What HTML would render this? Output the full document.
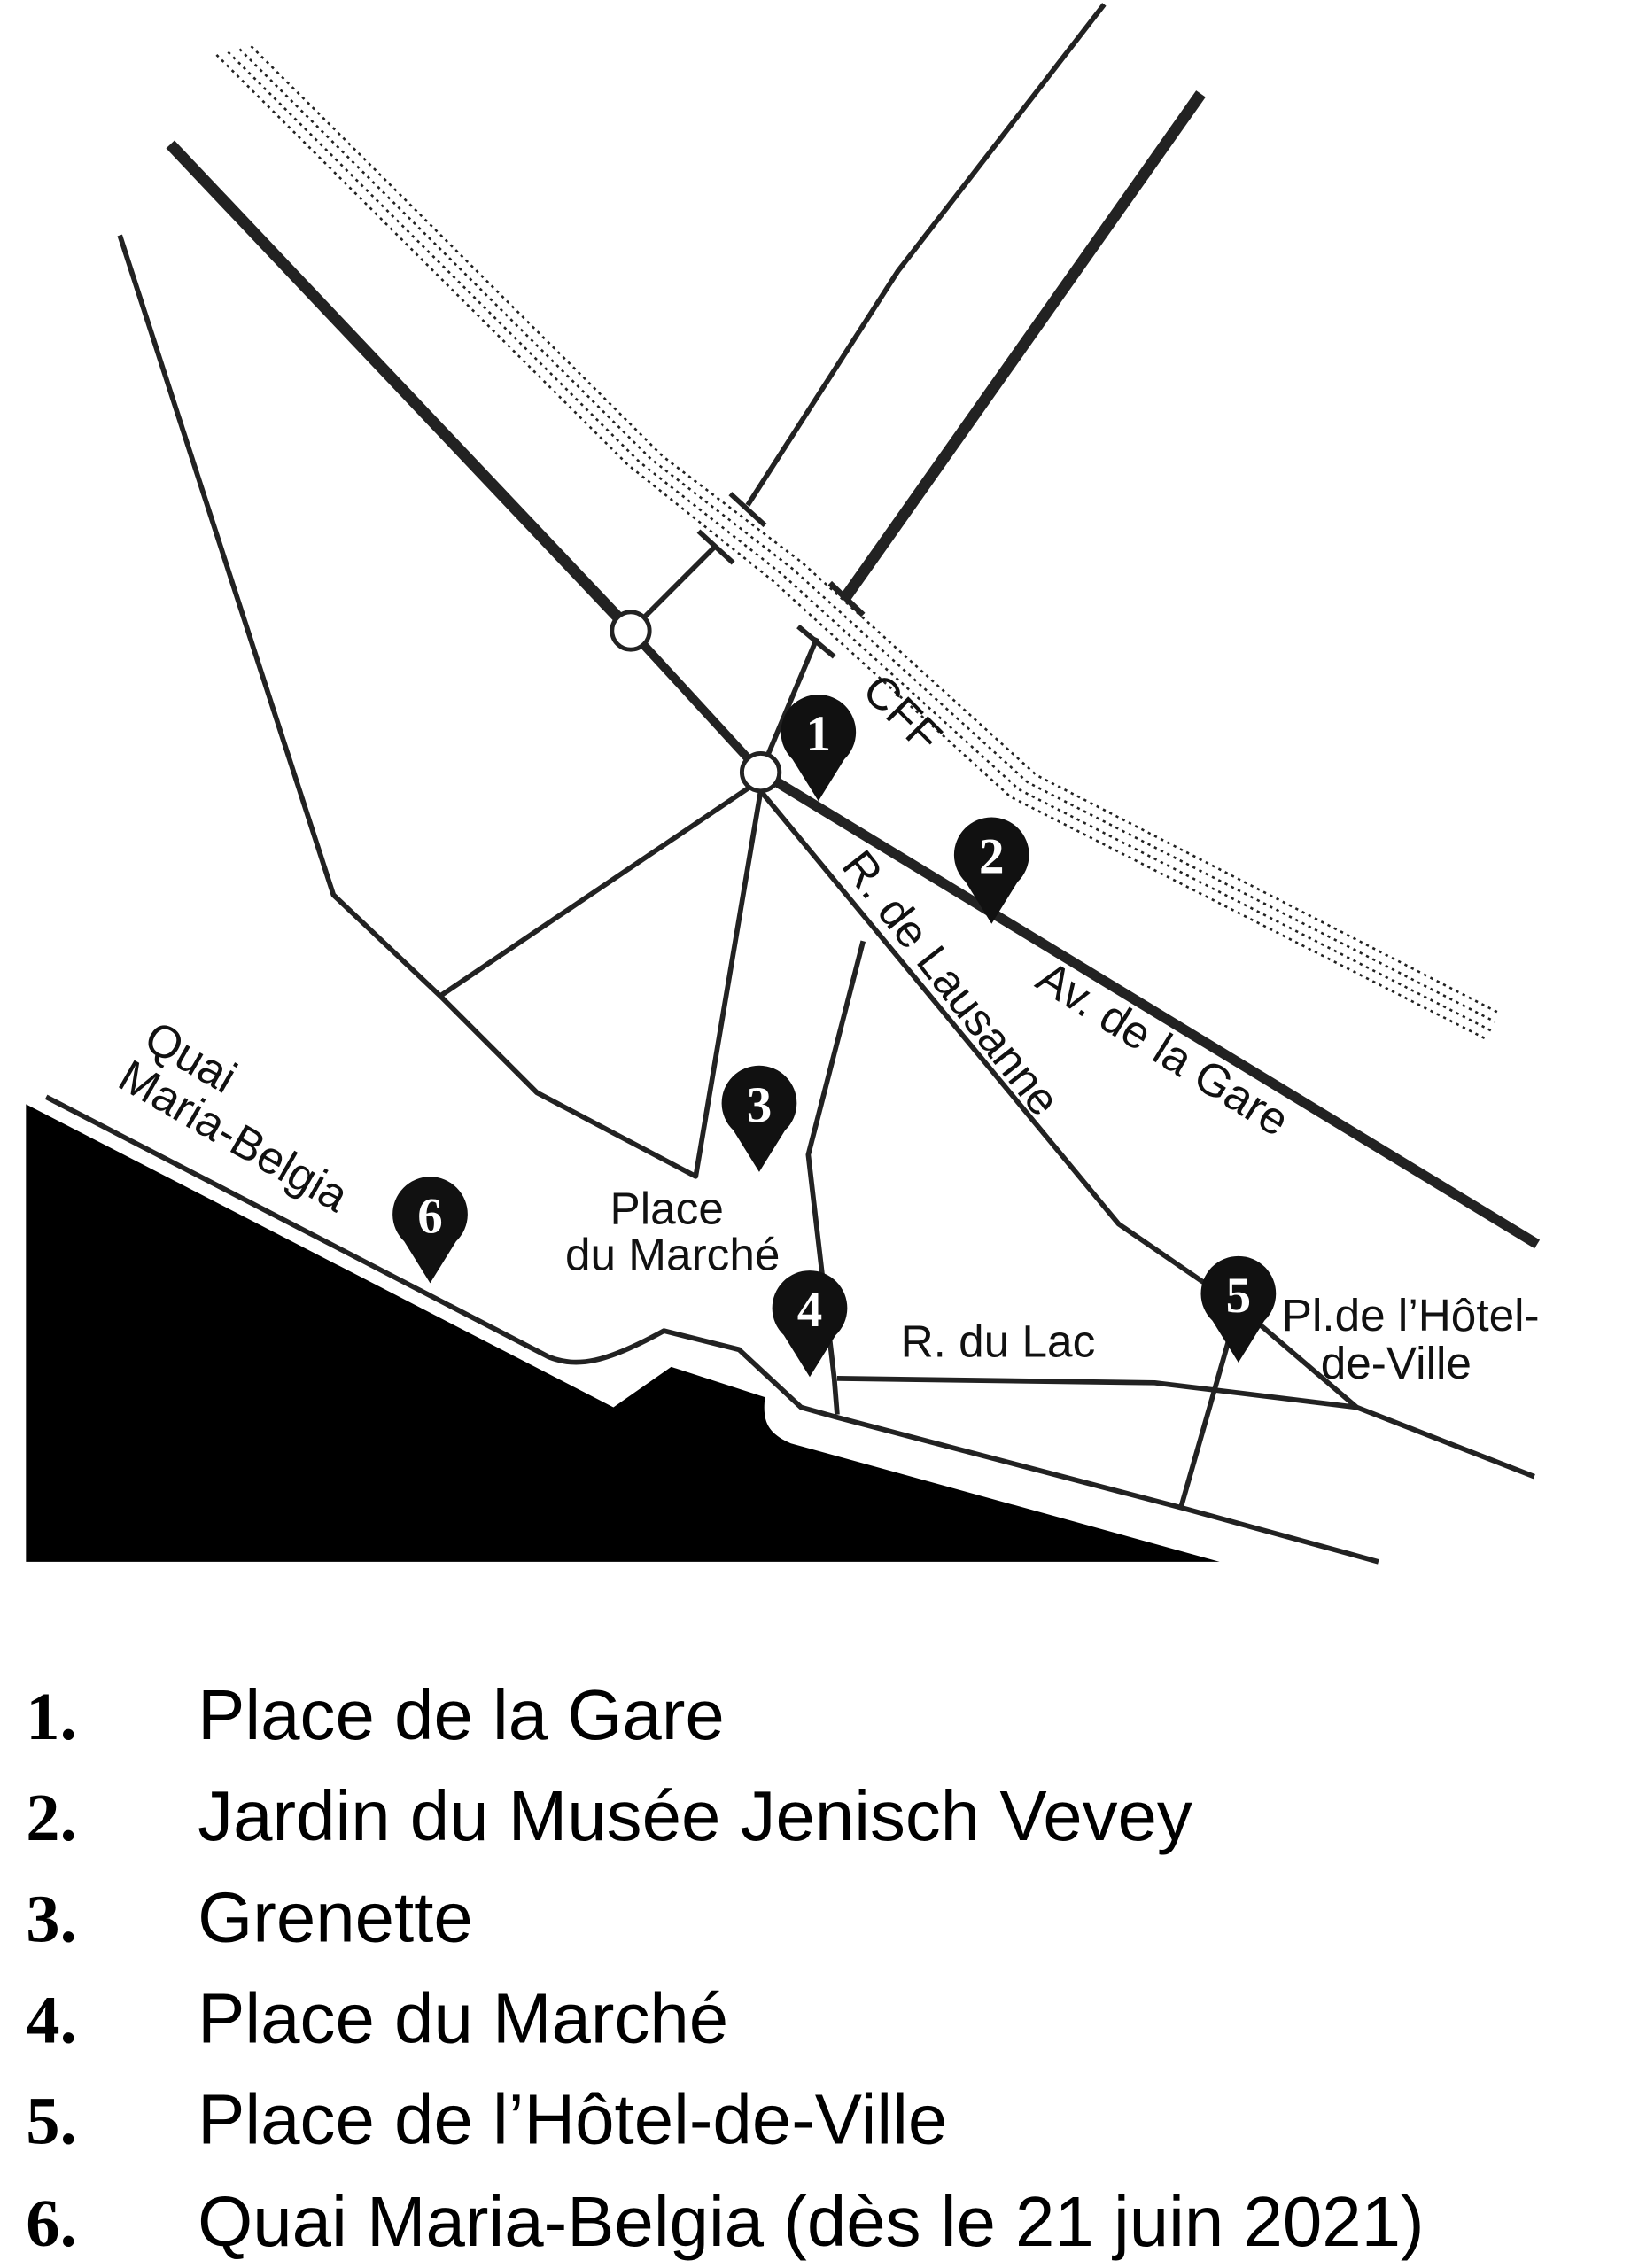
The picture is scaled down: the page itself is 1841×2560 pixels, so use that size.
<!DOCTYPE html>
<html><head><meta charset="utf-8"><style>
html,body{margin:0;padding:0;background:#fff;}
svg{display:block;}
.t{font-family:"Liberation Sans",sans-serif;font-size:31.5px;fill:#111;}
.n{font-family:"Liberation Serif",serif;font-weight:bold;font-size:35px;fill:#fff;text-anchor:middle;}
.ln{font-family:"Liberation Serif",serif;font-weight:bold;font-size:47px;fill:#000;}
.lt{font-family:"Liberation Sans",sans-serif;font-size:49px;fill:#000;}
</style></head><body>
<svg width="1841" height="2560" viewBox="0 0 1130 1571.3" preserveAspectRatio="none">
<g fill="none" stroke="#222" stroke-linecap="butt">
<g stroke-width="1.6" stroke-dasharray="2 3">
<polyline points="150,38 435,322 535,402 700,552 1030,720"/>
<polyline points="158,36 443,320 542,398 706,547 1033,714"/>
<polyline points="166,34 451,318 549,394 712,542 1036,708"/>
<polyline points="174,32 459,316 556,390 718,537 1039,702"/>
</g>
<polyline points="118,100 437,437" stroke-width="8"/>
<polyline points="437,437 527,535" stroke-width="6"/>
<polyline points="527,535 1065,862" stroke-width="7"/>
<polyline points="832,65 585,415" stroke-width="8"/>
<line x1="575" y1="404" x2="598" y2="426" stroke-width="4"/>
<g stroke-width="3.5" stroke-linejoin="round">
<polyline points="765,3 622,188 518,350"/>
<line x1="506" y1="342" x2="530" y2="364"/>
<polyline points="437,437 496,378"/>
<line x1="484" y1="368" x2="508" y2="390"/>
<polyline points="527,535 566,442"/>
<line x1="553" y1="434" x2="578" y2="455"/>
<polyline points="83,163 231,620 305,690 372,757 482,815 527,548"/>
<polyline points="305,690 520,545"/>
<polyline points="527,548 775,848 858,905 940,975 1063,1023"/>
<polyline points="598,652 560,800 578,955 580,980"/>
<polyline points="580,955 800,958 940,975"/>
<polyline points="858,905 818,1045"/>
<path d="M32,760 L380,940 C400,948 420,944 460,922 L512,935 L555,975 L580,982 L820,1045 L955,1082"/>
</g>
</g>
<path d="M18,765 L425,975 L465,947 L530,968 C528,985 532,993 548,1000 L845,1082 L18,1082 Z" fill="#000"/>
<circle cx="437" cy="437" r="13" fill="#fff" stroke="#222" stroke-width="3"/>
<circle cx="527" cy="535" r="13" fill="#fff" stroke="#222" stroke-width="3"/>
<defs><path id="pin" d="M0,47 L-18,18 A26,26 0 1 1 18,18 Z" fill="#111"/></defs>
<use href="#pin" x="567" y="508"/><text class="n" x="567" y="520">1</text>
<use href="#pin" x="687" y="593"/><text class="n" x="687" y="605">2</text>
<use href="#pin" x="526" y="765"/><text class="n" x="526" y="777">3</text>
<use href="#pin" x="561" y="907"/><text class="n" x="561" y="919">4</text>
<use href="#pin" x="858" y="897"/><text class="n" x="858" y="909">5</text>
<use href="#pin" x="298" y="842"/><text class="n" x="298" y="854">6</text>
<text class="t" transform="translate(596,480) rotate(45)">CFF</text>
<text class="t" transform="translate(582,600) rotate(52)">R. de Lausanne</text>
<text class="t" transform="translate(716,683) rotate(32)">Av. de la Gare</text>
<text class="t" transform="translate(98,725) rotate(30)">Quai</text>
<text class="t" transform="translate(80,752) rotate(30)">Maria-Belgia</text>
<text class="t" x="462" y="848" text-anchor="middle">Place</text>
<text class="t" x="466" y="880" text-anchor="middle">du Marché</text>
<text class="t" x="624" y="940">R. du Lac</text>
<text class="t" x="888" y="922">Pl.de l’Hôtel-</text>
<text class="t" x="915" y="955">de-Ville</text>
<g>
<text class="ln" x="18" y="1205">1.</text><text class="lt" x="137" y="1205">Place de la Gare</text>
<text class="ln" x="18" y="1275">2.</text><text class="lt" x="137" y="1275">Jardin du Musée Jenisch Vevey</text>
<text class="ln" x="18" y="1345">3.</text><text class="lt" x="137" y="1345">Grenette</text>
<text class="ln" x="18" y="1415">4.</text><text class="lt" x="137" y="1415">Place du Marché</text>
<text class="ln" x="18" y="1485">5.</text><text class="lt" x="137" y="1485">Place de l’Hôtel-de-Ville</text>
<text class="ln" x="18" y="1556">6.</text><text class="lt" x="137" y="1556">Quai Maria-Belgia (dès le 21 juin 2021)</text>
</g>
</svg>
</body></html>
